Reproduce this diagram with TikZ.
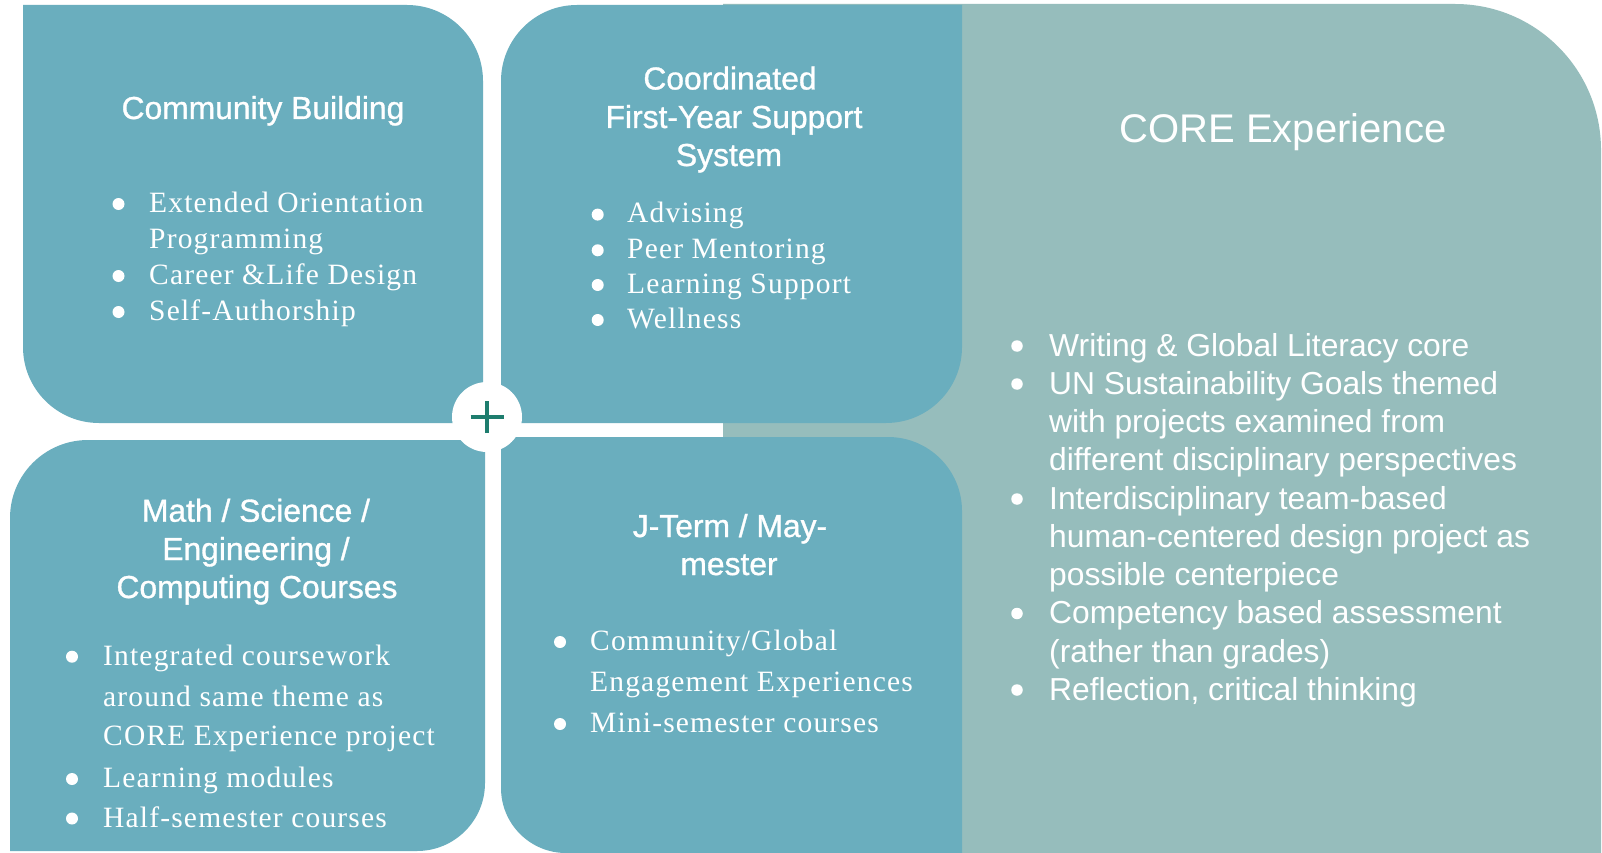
\documentclass[tikz,border=0pt]{standalone}
\usepackage{fontspec}
\setmainfont{Liberation Serif}
\newfontfamily\arfont{Liberation Sans}
\newfontfamily\artitle[FakeBold=1]{Liberation Sans}
\newfontfamily\spfont[LetterSpace=4]{Liberation Serif}
\definecolor{boxblue}{RGB}{106,174,190}
\definecolor{panelgray}{RGB}{150,189,188}
\definecolor{plusgreen}{RGB}{30,125,110}
\begin{document}
\begin{tikzpicture}[x=1pt,y=-1pt,
  ttl/.style={anchor=base, text=white, inner sep=0pt, font=\artitle\fontsize{31.8}{38}\selectfont},
  bigttl/.style={anchor=base, text=white, inner sep=0pt, font=\arfont\fontsize{40}{48}\selectfont},
  itm/.style={anchor=base west, text=white, inner sep=0pt, font=\spfont\fontsize{29.5}{35}\selectfont},
  citm/.style={anchor=base west, text=white, inner sep=0pt, font=\arfont\fontsize{31.8}{38}\selectfont},
  bul/.style={circle, fill=white, draw=none, inner sep=0pt, minimum size=12pt},
  cbul/.style={circle, fill=white, draw=none, inner sep=0pt, minimum size=11.5pt},
  hubstyle/.style={circle, fill=white, draw=none, inner sep=0pt, minimum size=70pt},
  plusline/.style={draw=plusgreen, line width=4pt},
]
\useasboundingbox (0,0) rectangle (1602,853);
\fill[white] (0,0) rectangle (1602,853);

% CORE panel
\fill[panelgray] (723,4) -- (1455,4) arc[start angle=270,end angle=360,radius=146] -- (1601,853) -- (723,853) -- cycle;

% Community Building box
\fill[boxblue] (23,5) -- (407,5) arc[start angle=270,end angle=360,radius=76] -- (483,423) -- (99,423) arc[start angle=90,end angle=180,radius=76] -- cycle;
% Coordinated box
\fill[boxblue] (501,81) arc[start angle=180,end angle=270,radius=76] -- (962,5) -- (962,347) arc[start angle=0,end angle=90,radius=76] -- (501,423) -- cycle;
% Math box
\fill[boxblue] (10,518) arc[start angle=180,end angle=270,radius=78] -- (485,440) -- (485,783) arc[start angle=0,end angle=90,radius=68] -- (10,851) -- cycle;
% J-Term box
\fill[boxblue] (501,437) -- (888,437) arc[start angle=270,end angle=360,radius=74] -- (962,853) -- (566,853) arc[start angle=90,end angle=180,radius=65] -- cycle;

% hub
\node[hubstyle] (hub) at (487,417) {};
\draw[plusline] ([xshift=-16.5pt]hub.center) -- ([xshift=16.5pt]hub.center);
\draw[plusline] ([yshift=-16pt]hub.center) -- ([yshift=16pt]hub.center);

% Community Building
\node[ttl] (cbt) at (263,119) {Community Building};
\node[bul] (cbb1) at (118.5,204) {};
\node[itm] (cbi1) at (149,212) {Extended Orientation};
\node[itm] (cbi1b) at (149,248) {Programming};
\node[bul] (cbb2) at (118.5,276) {};
\node[itm] (cbi2) at (149,284) {Career \&Life Design};
\node[bul] (cbb3) at (118.5,312) {};
\node[itm] (cbi3) at (149,320) {Self-Authorship};

% Coordinated
\node[ttl] (fyt1) at (730,89.5) {Coordinated};
\node[ttl] (fyt2) at (734,128) {First-Year Support};
\node[ttl] (fyt3) at (729,166) {System};
\node[bul] (fyb1) at (597.7,214.6) {};
\node[itm] (fyi1) at (627,222.6) {Advising};
\node[bul] (fyb2) at (597.7,250.3) {};
\node[itm] (fyi2) at (627,258.3) {Peer Mentoring};
\node[bul] (fyb3) at (597.7,285) {};
\node[itm] (fyi3) at (627,293) {Learning Support};
\node[bul] (fyb4) at (597.7,320) {};
\node[itm] (fyi4) at (627,328) {Wellness};

% Math
\node[ttl] (mt1) at (256,521.7) {Math / Science /};
\node[ttl] (mt2) at (256,560) {Engineering /};
\node[ttl] (mt3) at (257,598) {Computing Courses};
\node[bul] (mb1) at (72,656.7) {};
\node[itm] (mi1) at (103,665) {Integrated coursework};
\node[itm] (mi1b) at (103,706) {around same theme as};
\node[itm] (mi1c) at (103,745) {CORE Experience project};
\node[bul] (mb2) at (72,779) {};
\node[itm] (mi2) at (103,787) {Learning modules};
\node[bul] (mb3) at (72,818.5) {};
\node[itm] (mi3) at (103,827) {Half-semester courses};

% J-Term
\node[ttl] (jt1) at (730,537) {J-Term / May-};
\node[ttl] (jt2) at (729,575) {mester};
\node[bul] (jb1) at (560,642) {};
\node[itm] (ji1) at (590,650) {Community/Global};
\node[itm] (ji1b) at (590,691) {Engagement Experiences};
\node[bul] (jb2) at (560,724) {};
\node[itm] (ji2) at (590,732) {Mini-semester courses};

% CORE
\node[bigttl] (coret) at (1283,143) {CORE Experience};
\node[cbul] (cob1) at (1017,346) {};
\node[citm] (coi1) at (1049,356) {Writing \& Global Literacy core};
\node[cbul] (cob2) at (1017,384) {};
\node[citm] (coi2) at (1049,394) {UN Sustainability Goals themed};
\node[citm] (coi2b) at (1049,432) {with projects examined from};
\node[citm] (coi2c) at (1049,470.5) {different disciplinary perspectives};
\node[cbul] (cob3) at (1017,499) {};
\node[citm] (coi3) at (1049,509) {Interdisciplinary team-based};
\node[citm] (coi3b) at (1049,547) {human-centered design project as};
\node[citm] (coi3c) at (1049,585) {possible centerpiece};
\node[cbul] (cob4) at (1017,613.5) {};
\node[citm] (coi4) at (1049,623.5) {Competency based assessment};
\node[citm] (coi4b) at (1049,662) {(rather than grades)};
\node[cbul] (cob5) at (1017,690) {};
\node[citm] (coi5) at (1049,700) {Reflection, critical thinking};
\end{tikzpicture}
\end{document}
